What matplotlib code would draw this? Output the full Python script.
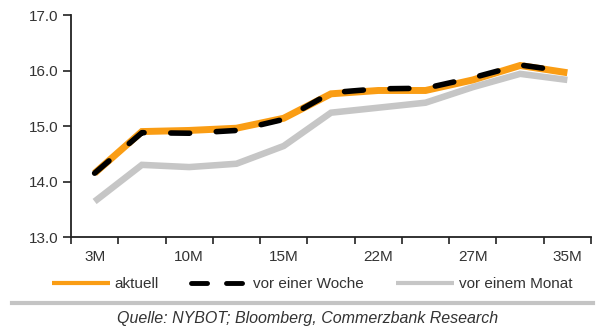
import matplotlib
matplotlib.use("Agg")
import matplotlib.pyplot as plt
from matplotlib.lines import Line2D
import numpy as np

plt.rcParams["font.family"] = ["Liberation Sans", "DejaVu Sans"]

# Contract maturities (only every other one carries a label)
maturities = ["3M", "", "10M", "", "15M", "", "22M", "", "27M", "", "35M"]

# Forward curves, US cents per lb
aktuell = [14.15, 14.90, 14.92, 14.96, 15.14, 15.58, 15.64, 15.64, 15.83, 16.09, 15.96]
vor_einer_woche = [14.15, 14.88, 14.87, 14.92, 15.12, 15.60, 15.67, 15.68, 15.87, 16.10, 15.98]
vor_einem_monat = [13.64, 14.30, 14.26, 14.32, 14.64, 15.24, 15.33, 15.42, 15.70, 15.94, 15.83]

series_labels = ["aktuell", "vor einer Woche", "vor einem Monat"]
source_text = "Quelle: NYBOT; Bloomberg, Commerzbank Research"

ORANGE = "#FA9D14"
GREY = "#C6C6C6"
TEXT = "#333333"

fig = plt.figure(figsize=(6.0, 3.29), dpi=100)
ax = fig.add_axes([0.1183, 0.2796, 0.985 - 0.1183, 0.9544 - 0.2796])

x = np.arange(len(maturities))
ax.plot(x, vor_einem_monat, color=GREY, lw=4.7, solid_capstyle="butt",
        solid_joinstyle="miter", zorder=2)
ax.plot(x, aktuell, color=ORANGE, lw=5.0, solid_capstyle="butt",
        solid_joinstyle="miter", zorder=3)
ax.plot(x, vor_einer_woche, color="black", lw=4.0, dashes=(3.4, 4.8),
        dash_capstyle="round", zorder=4)

ax.set_ylim(13.0, 17.0)
ax.set_xlim(-0.5, len(maturities) - 0.5)
ax.set_yticks(np.arange(13.0, 17.01, 1.0))
ax.set_yticklabels([f"{v:.1f}" for v in np.arange(13.0, 17.01, 1.0)])

# tick marks on category boundaries, labels on category centres
ax.set_xticks(np.arange(-0.5, len(maturities), 1.0))
ax.set_xticklabels([])
ax.set_xticks(x, minor=True)
ax.set_xticklabels(maturities, minor=True)
ax.tick_params(axis="x", which="major", length=5, width=1.2, color="#222222", direction="out")
ax.tick_params(axis="x", which="minor", length=0, pad=9, labelsize=11, labelcolor=TEXT)
ax.tick_params(axis="y", length=6, width=1.2, color="#222222", pad=3,
               labelsize=11, labelcolor=TEXT)

for side in ("top", "right"):
    ax.spines[side].set_visible(False)
for side in ("left", "bottom"):
    ax.spines[side].set_color("#222222")
    ax.spines[side].set_linewidth(1.3)

handles = [
    Line2D([], [], color=ORANGE, lw=3.0, solid_capstyle="butt"),
    Line2D([], [], color="black", lw=3.5, dashes=(3.3, 3.9), dash_capstyle="round"),
    Line2D([], [], color=GREY, lw=3.0, solid_capstyle="butt"),
]
fig.legend(handles, series_labels, loc="center", bbox_to_anchor=(0.52, 1 - 284 / 329),
           ncol=3, frameon=False, fontsize=11, handlelength=3.8, handletextpad=0.3,
           columnspacing=2.1, labelcolor=TEXT)

# separator rule above the source line
fig.add_artist(Line2D([12 / 600, 593 / 600], [1 - 303 / 329] * 2, color="#C4C4C4",
                      lw=3.0, transform=fig.transFigure))
fig.text(0.512, 1 - 319 / 329, source_text, ha="center", va="center",
         fontsize=11.5, style="italic", color=TEXT)

fig.savefig("out.png", dpi=100)
